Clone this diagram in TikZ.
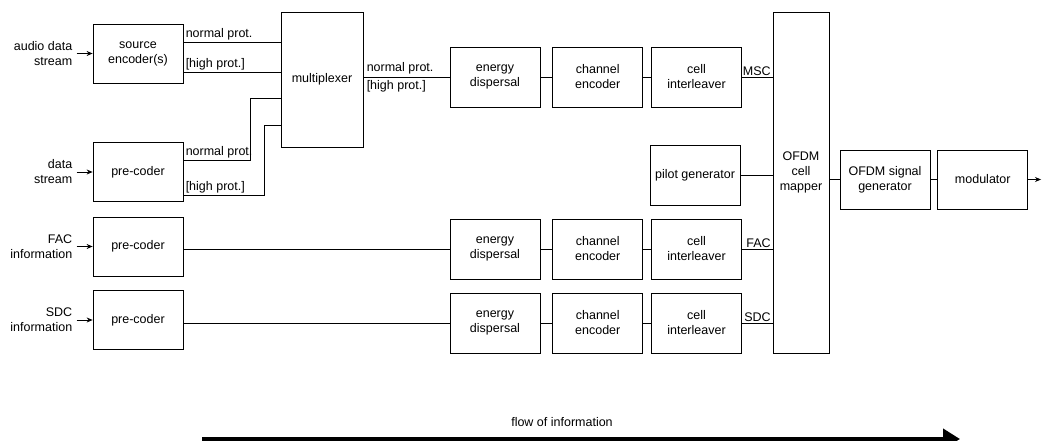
\documentclass[tikz,border=0pt]{standalone}
\usepackage{fontspec}
\setmainfont{Liberation Sans}
\usetikzlibrary{arrows.meta,positioning}

\begin{document}
\begin{tikzpicture}[x=1pt,y=-1pt,line width=0.75pt,
  font=\fontsize{12.5}{15}\selectfont,
  >={Stealth[length=6pt,width=5pt]},
  block/.style={rectangle,draw,align=center,minimum width=90pt,minimum height=59pt,inner sep=2pt},
  inlabel/.style={align=right,inner sep=2pt},
  tag/.style={inner sep=2pt}]
\useasboundingbox (0,0) rectangle (1042,441);

    % inputs and pre-coding
    \node[block](src) at (138,53.5){source\\encoder(s)};
    \node[block](pdat) at (138,172){pre-coder};
    \node[block](pfac) at (138,246.5){pre-coder};
    \node[block](psdc) at (138,320){pre-coder};
    \node[inlabel,left=18pt of src](audio){audio data\\stream};
    \node[inlabel,left=18pt of pdat](data){data\\stream};
    \node[inlabel,left=18pt of pfac](fac){FAC\\information};
    \node[inlabel,left=18pt of psdc](sdc){SDC\\information};
    \foreach \a/\b in {audio/src,data/pdat,fac/pfac,sdc/psdc}
      \draw[->,shorten <=2pt] (\a.east) -- (\b.west);

    \node[block,minimum width=82pt,minimum height=135pt](mux) at (322,79.5){multiplexer};

    % channel coding rows
    \node[block,minimum height=60pt](ed1) at (495,77){energy\\dispersal};
    \node[block,minimum height=60pt,right=12pt of ed1](ce1){channel\\encoder};
    \node[block,minimum height=60pt,right=8pt of ce1](ci1){cell\\interleaver};
    \node[block,minimum height=60pt](pilot) at (695,175){pilot generator};
    \node[block,minimum height=60pt](ed2) at (495,249){energy\\dispersal};
    \node[block,minimum height=60pt,right=12pt of ed2](ce2){channel\\encoder};
    \node[block,minimum height=60pt,right=8pt of ce2](ci2){cell\\interleaver};
    \node[block,minimum height=60pt](ed3) at (495,323){energy\\dispersal};
    \node[block,minimum height=60pt,right=12pt of ed3](ce3){channel\\encoder};
    \node[block,minimum height=60pt,right=8pt of ce3](ci3){cell\\interleaver};

    \node[draw,minimum width=56pt,minimum height=341pt,
      label={[align=center,yshift=10pt]center:OFDM\\cell\\mapper}](map) at (801,182.5){};
    \node[block](sgen) at (885,179.5){OFDM signal\\generator};
    \node[block,right=7pt of sgen](mod){modulator};
    \coordinate (out) at (1041,179.5);

    % multiplexer inputs
    \draw (src.east |- 0,42) node[tag,anchor=south west]{normal prot.} -- (mux.west |- 0,42);
    \draw (src.east |- 0,72) node[tag,anchor=south west]{[high prot.]} -- (mux.west |- 0,72);
    \draw (pdat.east |- 0,160) node[tag,anchor=south west]{normal prot.} -| (250,98) -- (mux.west |- 0,98);
    \draw (pdat.east |- 0,195) node[tag,anchor=south west]{[high prot.]} -| (264,125) -- (mux.west |- 0,125);
    \draw (mux.east |- ed1.west) node[tag,anchor=south west,inner sep=3pt]{normal prot.}
          node[tag,anchor=north west,inner sep=3pt]{[high prot.]} -- (ed1.west);
    \draw (pfac.east |- ed2.west) -- (ed2.west);
    \draw (psdc.east |- ed3.west) -- (ed3.west);

    \path (ed1) edge (ce1) (ce1) edge (ci1)
          (ed2) edge (ce2) (ce2) edge (ci2)
          (ed3) edge (ce3) (ce3) edge (ci3);

    % into the cell mapper
    \draw (ci1.east) -- (ci1.east -| map.west) node[tag,pos=1,anchor=south east,inner sep=1.5pt]{MSC};
    \draw (pilot.east) -- (pilot.east -| map.west);
    \draw (ci2.east) -- (ci2.east -| map.west) node[tag,pos=1,anchor=south east,inner sep=1.5pt]{FAC};
    \draw (ci3.east) -- (ci3.east -| map.west) node[tag,pos=1,anchor=south east,inner sep=1.5pt]{SDC};

    \draw (map.east |- sgen.west) -- (sgen.west);
    \draw (sgen) -- (mod);
    \draw[->] (mod) -- (out);

    % flow of information
    \node(flowtxt) at (562,422){flow of information};
    \coordinate (fs) at (202,439);
    \coordinate (fe) at (960,439);
    \draw[line width=4pt,-{Triangle[length=17pt,width=20pt]}] (fs) -- (fe);
\end{tikzpicture}
\end{document}
